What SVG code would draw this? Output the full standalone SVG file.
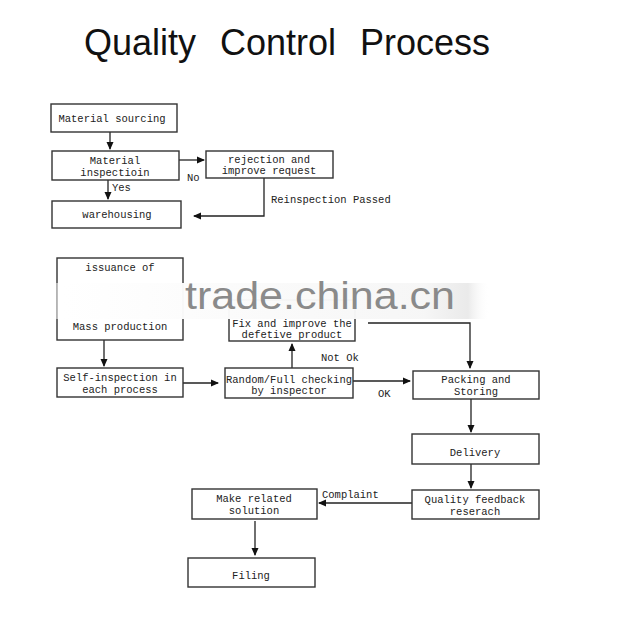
<svg xmlns="http://www.w3.org/2000/svg" width="640" height="626" viewBox="0 0 640 626">
<style>
.box{fill:#fff;stroke:#333;stroke-width:1.4}
.t{font-family:"Liberation Mono","DejaVu Sans Mono",monospace;font-size:10.5px;fill:#222;text-anchor:middle}
.lb{font-family:"Liberation Mono","DejaVu Sans Mono",monospace;font-size:10.5px;fill:#222}
.c{fill:none;stroke:#222;stroke-width:1.3}
.ttl{font-family:"Liberation Sans",Arial,sans-serif;font-size:36px;fill:#111}
</style>
<defs>
<marker id="ah" markerWidth="8" markerHeight="8" refX="7" refY="4" orient="auto" markerUnits="userSpaceOnUse">
<path d="M0,0.5 L8,4 L0,7.5 Z" fill="#111"/>
</marker>
<linearGradient id="wm" x1="0" y1="0" x2="1" y2="0">
<stop offset="0" stop-color="#fff" stop-opacity="0"/>
<stop offset="0.03" stop-color="#fff" stop-opacity="0.97"/>
<stop offset="0.85" stop-color="#f6f6f6" stop-opacity="0.97"/>
<stop offset="0.95" stop-color="#e8e8e8" stop-opacity="0.9"/>
<stop offset="1" stop-color="#fff" stop-opacity="0"/>
</linearGradient>
</defs>
<rect width="640" height="626" fill="#fff"/>
<g id="title">
<text class="ttl" x="84" y="55">Quality</text>
<text class="ttl" x="220" y="55">Control</text>
<text class="ttl" x="360" y="55">Process</text>
</g>

<g id="connectors">
<path class="c" d="M110,132 V149" marker-end="url(#ah)"/>
<path class="c" d="M179,160 H204" marker-end="url(#ah)"/>
<path class="c" d="M108,180 V199" marker-end="url(#ah)"/>
<path class="c" d="M264,178 V216 H194" marker-end="url(#ah)"/>
<path class="c" d="M104,340 V366" marker-end="url(#ah)"/>
<path class="c" d="M183,383 H218" marker-end="url(#ah)"/>
<path class="c" d="M292,368 V344" marker-end="url(#ah)"/>
<path class="c" d="M353,381 H410" marker-end="url(#ah)"/>
<path class="c" d="M368,323 H470 V368" marker-end="url(#ah)"/>
<path class="c" d="M471,399 V432" marker-end="url(#ah)"/>
<path class="c" d="M471,464 V488" marker-end="url(#ah)"/>
<path class="c" d="M412,503 H319" marker-end="url(#ah)"/>
<path class="c" d="M255,521 V555" marker-end="url(#ah)"/>
<text class="lb" x="187" y="181">No</text>
<text class="lb" x="112" y="191">Yes</text>
<text class="lb" x="271" y="203">Reinspection Passed</text>
<text class="lb" x="321" y="361">Not Ok</text>
<text class="lb" x="378" y="397">OK</text>
<text class="lb" x="322" y="498">Complaint</text>
</g>

<g id="n1"><rect class="box" x="51" y="104" width="126" height="28"/><text class="t" x="112" y="122">Material sourcing</text></g>
<g id="n2"><rect class="box" x="52" y="151" width="127" height="29"/><text class="t" x="115" y="164">Material</text><text class="t" x="115" y="176">inspectioin</text></g>
<g id="n3"><rect class="box" x="206" y="151" width="127" height="27"/><text class="t" x="269" y="163">rejection and</text><text class="t" x="269" y="174">improve request</text></g>
<g id="n4"><rect class="box" x="52" y="201" width="129" height="27"/><text class="t" x="117" y="218">warehousing</text></g>
<g id="n5"><rect class="box" x="57" y="258" width="126" height="82"/><text class="t" x="120" y="271">issuance of</text><text class="t" x="120" y="330">Mass production</text></g>
<g id="n6"><rect class="box" x="57" y="368" width="126" height="29"/><text class="t" x="120" y="381">Self-inspection in</text><text class="t" x="120" y="393">each  process</text></g>
<g id="n7"><rect class="box" x="229" y="300" width="126" height="41"/><text class="t" x="292" y="326.5" font-size="8.5px">Fix and improve the</text><text class="t" x="292" y="337.5" font-size="8.5px">defetive product</text></g>
<g id="n8"><rect class="box" x="225" y="368" width="128" height="30"/><text class="t" x="289" y="383" font-size="9.5px">Random/Full checking</text><text class="t" x="289" y="394" font-size="9.5px">by inspector</text></g>
<g id="n9"><rect class="box" x="413" y="371" width="126" height="28"/><text class="t" x="476" y="383">Packing and</text><text class="t" x="476" y="395">Storing</text></g>
<g id="n10"><rect class="box" x="412" y="434" width="127" height="30"/><text class="t" x="475" y="456">Delivery</text></g>
<g id="n11"><rect class="box" x="412" y="490" width="127" height="29"/><text class="t" x="475" y="503">Quality feedback</text><text class="t" x="475" y="515">reserach</text></g>
<g id="n12"><rect class="box" x="192" y="489" width="125" height="30"/><text class="t" x="254" y="502">Make related</text><text class="t" x="254" y="514">solution</text></g>
<g id="n13"><rect class="box" x="188" y="558" width="127" height="29"/><text class="t" x="251" y="579">Filing</text></g>

<g id="watermark">
<rect x="50" y="283" width="440" height="36" fill="url(#wm)"/>
<text x="185" y="309" font-family="Liberation Sans, Arial, sans-serif" font-size="38" fill="#8a8a8a" textLength="270" lengthAdjust="spacingAndGlyphs">trade.china.cn</text>
</g>
</svg>
